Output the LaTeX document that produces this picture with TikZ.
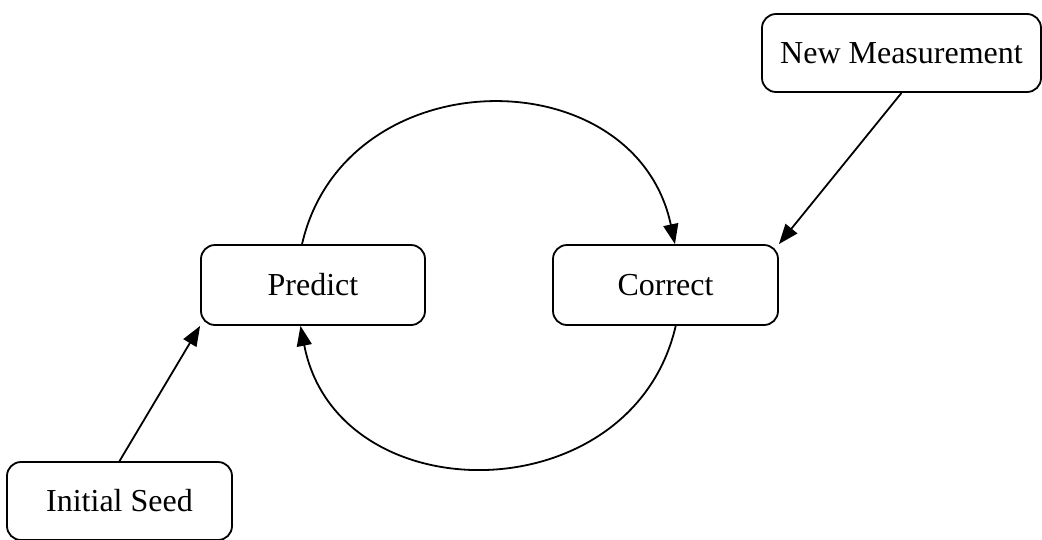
\documentclass[tikz,border=0pt]{standalone}
\usepackage{fontspec}
\setmainfont{Liberation Serif}
\usetikzlibrary{arrows.meta}

\tikzset{
  stage/.style={draw, line width=1.8pt, rounded corners=14pt, minimum height=78pt,
    inner sep=0pt, font=\fontsize{32}{38}\selectfont},
  flow/.style={line width=1.8pt, -{Triangle[length=20pt,width=15pt]}}
}

\begin{document}
\begin{tikzpicture}[x=1pt,y=-1pt]
\useasboundingbox (0,0) rectangle (1042,539);

\node[stage, minimum width=224pt, minimum height=80pt] (predict) at (313,285) {Predict};
\node[stage, minimum width=225pt, minimum height=80pt] (correct) at (665.5,285) {Correct};
\node[stage, minimum width=279pt] (newmeas) at (901.5,53) {New Measurement};
\node[stage, minimum width=225pt] (seed) at (119.5,501) {Initial Seed};

% the loop
\draw[flow] (predict.105) to[out=77,in=102,looseness=1.32] (correct.77);
\draw[flow] (correct.-76) to[out=-103,in=-79,looseness=1.32] (predict.-107);

\draw[flow] (newmeas.south) -- (correct.north east);
\draw[flow] (seed.north) -- (predict.south west);
\end{tikzpicture}
\end{document}
